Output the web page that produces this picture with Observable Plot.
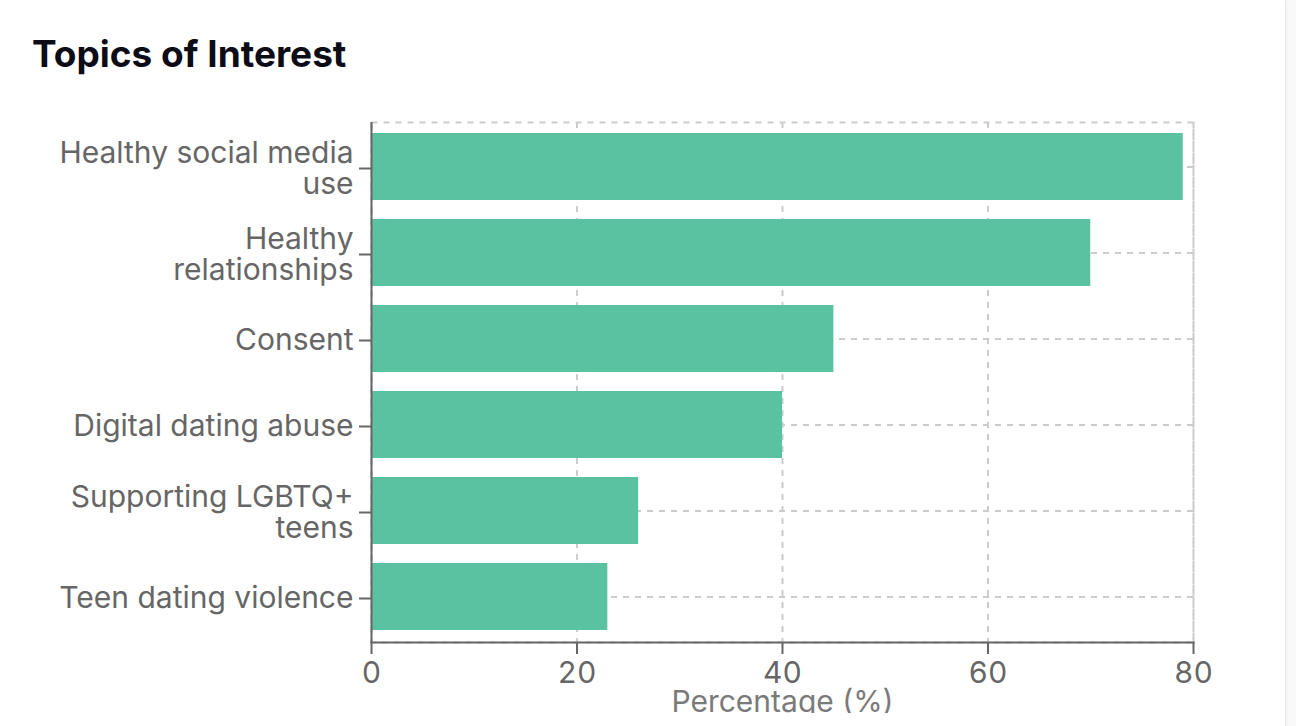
<!DOCTYPE html>
<html>
<head>
<meta charset="utf-8">
<script src="https://cdn.jsdelivr.net/npm/d3@7"></script>
<script src="https://cdn.jsdelivr.net/npm/@observablehq/plot@0.6"></script>
<style>
  html, body { margin: 0; padding: 0; width: 1296px; height: 726px; overflow: hidden; background: #f9f9f9; }
  #card { position: absolute; left: -14px; top: -14px; width: 1298px; height: 780px; background: #fff;
          border: 1px solid #ececec; border-radius: 14px; box-shadow: 0 1px 3px rgba(0,0,0,0.06); }
  #title { position: absolute; left: 32px; top: 34px; margin: 0; font-family: Inter, "Noto Sans", sans-serif;
           font-weight: 700; font-size: 37px; line-height: 40px; color: #0c0c16; letter-spacing: 0; white-space: nowrap; }
  #chart { position: absolute; left: 0; top: 90px; width: 1260px; height: 623px; overflow: hidden; }
</style>
</head>
<body>
<div id="card"></div>
<h2 id="title">Topics of Interest</h2>
<div id="chart"></div>
<script>
const topics = ["Healthy social media use", "Healthy relationships", "Consent", "Digital dating abuse", "Supporting LGBTQ+ teens", "Teen dating violence"];
const percentages = [79, 70, 45, 40, 26, 23];
const topicTickLabels = ["Healthy social media\nuse", "Healthy\nrelationships", "Consent", "Digital dating abuse", "Supporting LGBTQ+\nteens", "Teen dating violence"];
const xTicks = [0, 20, 40, 60, 80];
const xDomain = [0, 80];
const xTitle = "Percentage (%)";

const data = topics.map((t, i) => ({topic: t, value: percentages[i]}));
const labelOf = new Map(topics.map((t, i) => [t, topicTickLabels[i]]));

const gridStyle = {stroke: "#cccccc", strokeOpacity: 1, strokeDasharray: "6,6", strokeWidth: 2};
const font = "Inter, 'Noto Sans', sans-serif";

const chart = Plot.plot({
  width: 1260,
  height: 623,
  marginLeft: 371,
  marginRight: 67,
  marginTop: 32,
  marginBottom: 71,
  style: {fontFamily: font, fontSize: "30px", background: "transparent", overflow: "hidden"},
  x: {domain: xDomain, ticks: xTicks},
  y: {type: "band", domain: topics, paddingInner: 0.22, paddingOuter: 0.11},
  marks: [
    Plot.gridX({ticks: xTicks, ...gridStyle}),
    Plot.gridY({...gridStyle}),
    Plot.frame({...gridStyle}),
    Plot.barX(data, {x: "value", y: "topic", fill: "#5ac1a1"}),
    Plot.ruleX([0], {stroke: "#666666", strokeWidth: 2}),
    Plot.frame({anchor: "bottom", stroke: "#666666", strokeWidth: 2}),
    Plot.axisY({tickSize: 12, tickPadding: 6, tickFormat: d => labelOf.get(d), label: null,
                stroke: "#666666", strokeWidth: 2, fill: "#666666", fontSize: 30, lineHeight: 1.04, dy: 1.5}),
    Plot.axisX({ticks: xTicks, tickSize: 12, tickPadding: 7, label: null,
                stroke: "#666666", strokeWidth: 2, fill: "#666666", fontSize: 30}),
    Plot.text([xTitle], {frameAnchor: "bottom", lineAnchor: "top", dy: 48, fill: "#7a7a7a", fontSize: 30})
  ]
});
document.getElementById("chart").appendChild(chart);
</script>
</body>
</html>
